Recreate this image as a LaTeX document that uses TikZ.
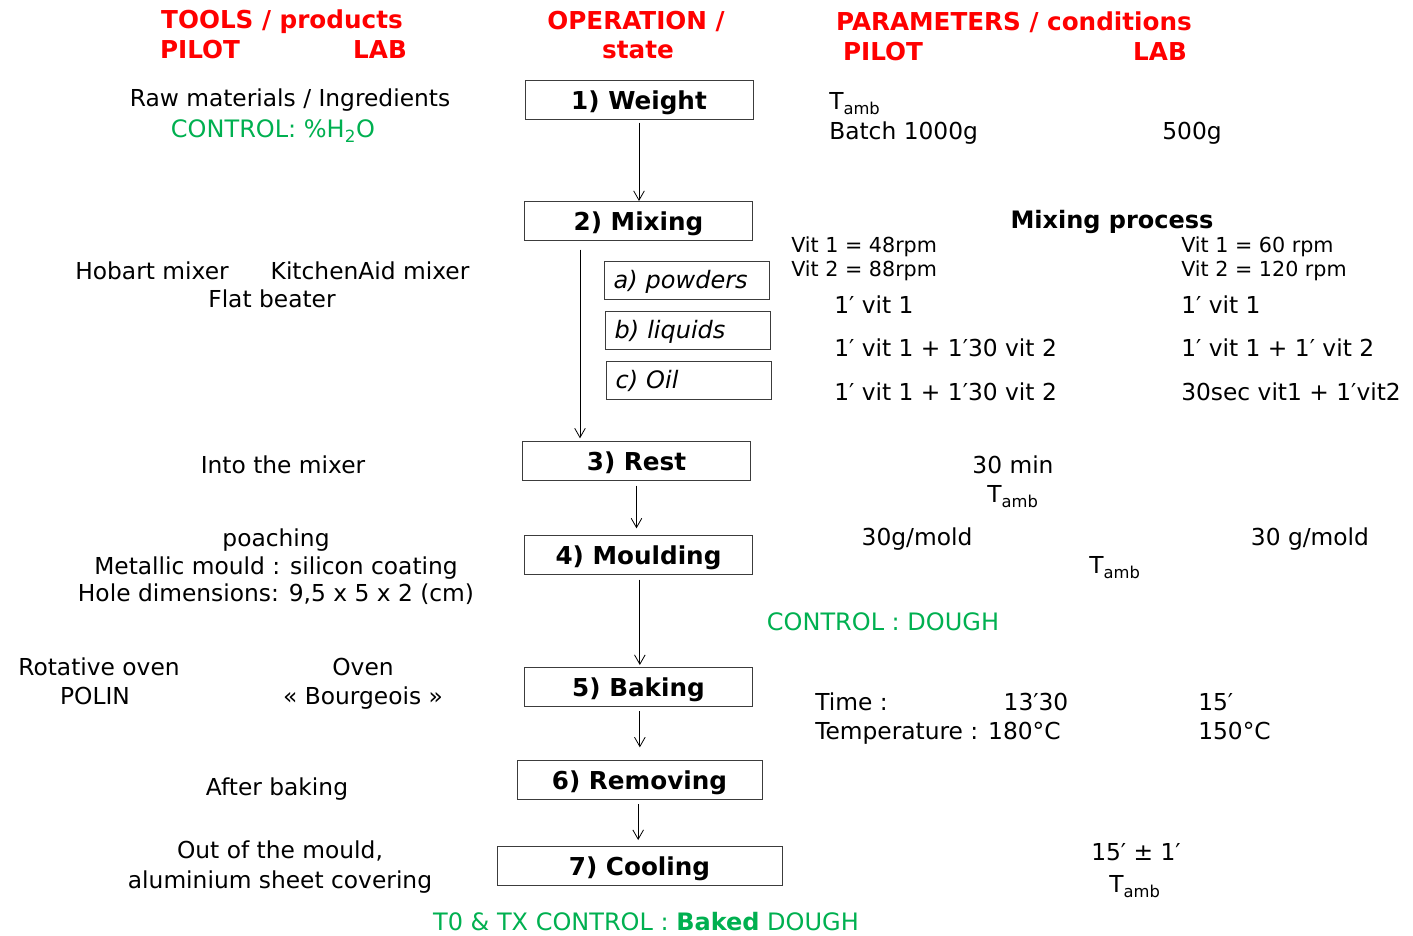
\documentclass[tikz,border=0pt]{standalone}
\usepackage{fontspec}
\setmainfont{DejaVu Sans}
\usetikzlibrary{arrows.meta,calc}
\definecolor{hdr}{RGB}{255,0,0}
\definecolor{ctl}{RGB}{0,176,80}
\definecolor{boxline}{RGB}{60,60,60}
\begin{document}
\begin{tikzpicture}[x=0.75pt,y=-0.75pt,
  txt/.style={inner sep=0pt,text height=13pt,text depth=0pt,font=\fontsize{17.5}{21}\selectfont},
  small/.style={txt,text height=11.5pt,font=\fontsize{15.5}{18}\selectfont},
  hd/.style={txt,text height=12pt,text=hdr,font=\fontsize{18.5}{22}\selectfont\bfseries},
  green/.style={txt,text=ctl,font=\fontsize{18}{21}\selectfont},
  opbox/.style={draw=boxline,line width=0.75pt,inner sep=0pt,text height=13.5pt,text depth=0pt,minimum width=171pt,minimum height=29.25pt,font=\fontsize{18.5}{22}\selectfont\bfseries},
  subbox/.style={draw=boxline,line width=0.75pt,inner xsep=7pt,inner ysep=0pt,text height=12pt,text depth=0pt,text width=110pt,align=left,minimum height=28.5pt,font=\fontsize{18}{21}\selectfont\itshape},
  arr/.style={line width=0.6pt,-{Straight Barb[length=7pt,width=8pt,line width=0.6pt]}}
]
\useasboundingbox (0,0) rectangle (1413,935);
% headers
\node[hd] (h1) at (282,20) {TOOLS / products};
\node[hd] (h1a) at (200,50) {PILOT};
\node[hd] (h1b) at (380,50) {LAB};
\node[hd] (h2) at (636,21) {OPERATION /};
\node[hd] (h2a) at (638,50) {state};
\node[hd] (h3) at (1014,23) {PARAMETERS / conditions};
\node[hd] (h3a) at (883,52) {PILOT};
\node[hd] (h3b) at (1160,52) {LAB};
% operation boxes
\node[opbox] (w) at (639,100) {1) Weight};
\node[opbox] (m) at (638.5,221) {2) Mixing};
\node[subbox] (sa) at (687,280) {a) powders};
\node[subbox] (sb) at (688,330) {b) liquids};
\node[subbox] (sc) at (689,380) {c) Oil};
\node[opbox] (r) at (636.5,461) {3) Rest};
\node[opbox] (mo) at (638.5,555) {4) Moulding};
\node[opbox] (b) at (638.5,687) {5) Baking};
\node[opbox,minimum width=183.75pt] (rm) at (639.5,780) {6) Removing};
\node[opbox,minimum width=213.75pt] (c) at (639.5,866) {7) Cooling};
% connectors
\draw[arr] ([yshift=-2pt]w.south) -- (w.south |- m.north);
\draw[arr] ([xshift=42pt,yshift=-6.5pt]m.south west) -- ([xshift=42pt,yshift=2pt]m.south west |- r.north);
\draw[arr] ([yshift=-3.5pt]r.south) -- ([yshift=5pt]r.south |- mo.north);
\draw[arr] ([xshift=1pt,yshift=-3.5pt]mo.south) -- ([xshift=1pt,yshift=1.5pt]mo.south |- b.north);
\draw[arr] ([xshift=1pt,yshift=-3pt]b.south) -- ([xshift=1pt,yshift=9.5pt]b.south |- rm.north);
\draw[arr] ([xshift=-1pt,yshift=-3pt]rm.south) -- ([xshift=-1pt,yshift=4.5pt]rm.south |- c.north);
% left column
\node[txt] (l1) at (290,98) {Raw materials / Ingredients};
\node[green] (l2) at (273,129) {CONTROL: \%H\textsubscript{2}O};
\node[txt] (l3) at (152,271) {Hobart mixer};
\node[txt] (l4) at (370,271) {KitchenAid mixer};
\node[txt] (l5) at (272,299) {Flat beater};
\node[txt] (l6) at (283,465) {Into the mixer};
\node[txt] (l7) at (276,538) {poaching};
\node[txt] (l8) at (276,566) {Metallic mould : silicon coating};
\node[txt] (l9) at (276,593) {Hole dimensions: 9,5 x 5 x 2 (cm)};
\node[txt] (l10) at (99,667) {Rotative oven};
\node[txt] (l11) at (95,696) {POLIN};
\node[txt] (l12) at (363,667) {Oven};
\node[txt] (l13) at (363,696) {« Bourgeois »};
\node[txt] (l14) at (277,787) {After baking};
\node[txt] (l15) at (280,850) {Out of the mould,};
\node[txt] (l16) at (280,880) {aluminium sheet covering};
\node[green] (bot) at (646,922) {T0 \& TX CONTROL : \textbf{Baked} DOUGH};
% right column
\node[txt,anchor=west] (p1) at (829,101) {T\textsubscript{amb}};
\node[txt,anchor=west] (p2) at (829,131) {Batch 1000g};
\node[txt] (p3) at (1192,131) {500g};
\node[txt,font=\fontsize{18}{21}\selectfont\bfseries] (p4) at (1112,220) {Mixing process};
\node[small,anchor=west] (p5) at (791,245) {Vit 1 = 48rpm};
\node[small,anchor=west] (p6) at (791,269) {Vit 2 = 88rpm};
\node[small,anchor=west] (p7) at (1181,245) {Vit 1 = 60 rpm};
\node[small,anchor=west] (p8) at (1181,269) {Vit 2 = 120 rpm};
\node[txt,anchor=west] (p9) at (834,305) {1′ vit 1};
\node[txt,anchor=west] (p10) at (834,348) {1′ vit 1 + 1′30 vit 2};
\node[txt,anchor=west] (p11) at (834,392) {1′ vit 1 + 1′30 vit 2};
\node[txt,anchor=west] (p12) at (1181,305) {1′ vit 1};
\node[txt,anchor=west] (p13) at (1181,348) {1′ vit 1 + 1′ vit 2};
\node[txt,anchor=west] (p14) at (1181,392) {30sec vit1 + 1′vit2};
\node[txt] (p15) at (1013,465) {30 min};
\node[txt] (p16) at (1013,494) {T\textsubscript{amb}};
\node[txt] (p17) at (917,537) {30g/mold};
\node[txt] (p18) at (1310,537) {30 g/mold};
\node[txt] (p19) at (1115,565) {T\textsubscript{amb}};
\node[green] (p20) at (883,622) {CONTROL : DOUGH};
\node[txt,anchor=west] (p21) at (815,702) {Time :};
\node[txt] (p22) at (1036,702) {13′30};
\node[txt,anchor=west] (p23) at (1198,702) {15′};
\node[txt,anchor=west] (p24) at (815,731) {Temperature : 180°C};
\node[txt,anchor=west] (p25) at (1198,731) {150°C};
\node[txt] (p26) at (1136,852) {15′ ± 1′};
\node[txt] (p27) at (1135,884) {T\textsubscript{amb}};
\end{tikzpicture}
\end{document}
